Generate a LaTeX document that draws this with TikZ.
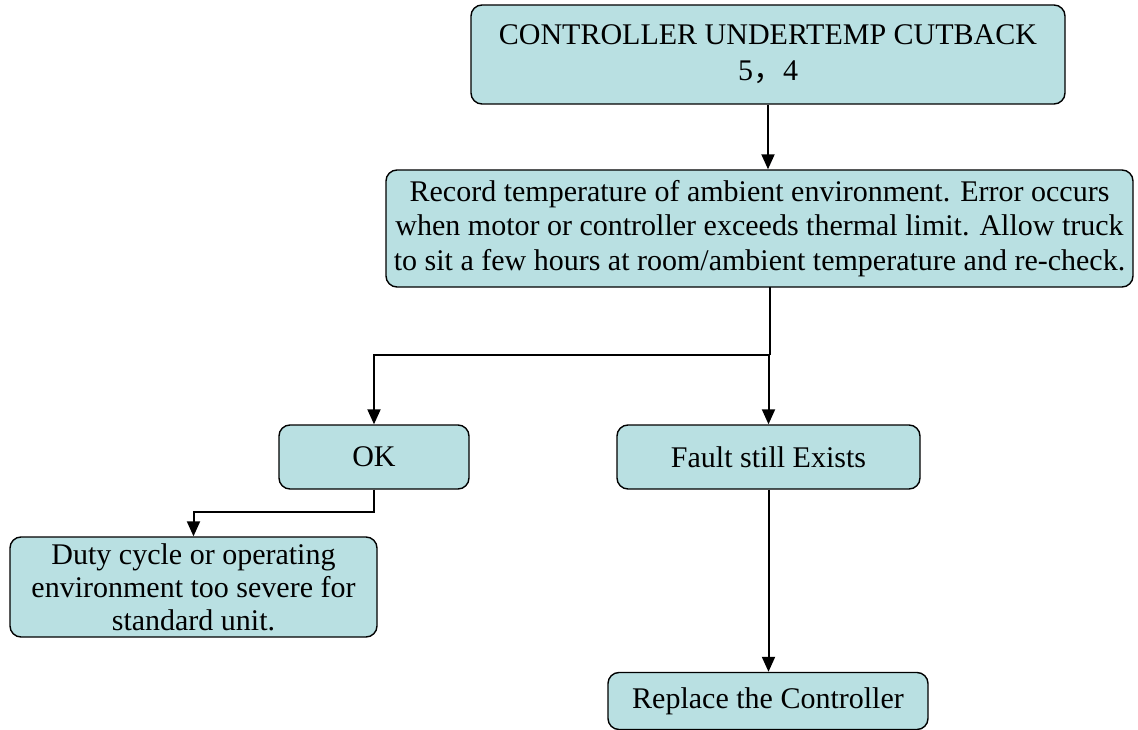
\documentclass[tikz,border=0pt]{standalone}
\usepackage{fontspec}
\setmainfont{Liberation Serif}
\newfontfamily\cjkfont{Noto Sans CJK SC}
\usetikzlibrary{arrows.meta}
\definecolor{boxfill}{RGB}{185,224,226}
\begin{document}
\begin{tikzpicture}[x=1pt,y=-1pt,
  box/.style={draw=black, line width=1.4pt, fill=boxfill, rounded corners=11pt,
    align=center, inner sep=0pt, font=\fontsize{30}{34.5}\selectfont},
  link/.style={draw=black, line width=2pt},
  arr/.style={link, -{Triangle[length=15pt,width=13pt]}}]
\useasboundingbox (0,0) rectangle (1138,730);
% boxes
\node[box, minimum width=594pt, minimum height=99pt, font=\fontsize{30}{36}\selectfont] (top) at (768,54.5)
  {CONTROLLER UNDERTEMP CUTBACK\\5{\cjkfont ，}4};
\node[box, minimum width=747pt, minimum height=117pt] (rec) at (759.5,228.5)
  {Record temperature of ambient environment. Error occurs\\
   when motor or controller exceeds thermal limit. Allow truck\\
   to sit a few hours at room/ambient temperature and re-check.};
\node[box, minimum width=190pt, minimum height=64pt] (ok) at (374,457) {OK};
\node[box, minimum width=303pt, minimum height=64pt] (fault) at (768.5,457) {Fault still Exists};
\node[box, minimum width=367pt, minimum height=100pt, font=\fontsize{30}{33}\selectfont] (duty) at (193.5,587)
  {Duty cycle or operating\\environment too severe for\\standard unit.};
\node[box, minimum width=320pt, minimum height=57pt] (repl) at (768,701) {Replace the Controller};
% junction points
\coordinate (recout) at (770,287);
\coordinate (split) at (770,355);
\coordinate (okturn) at (374,512);
% connectors
\draw[arr] (top.south) -- (top.south |- rec.north);
\draw[link] (recout) -- (split);
\draw[arr] (split) -| (ok.north);
\draw[arr] (fault.north |- split) -- (fault.north);
\draw[arr] (ok.south) -- (okturn) -| (duty.north);
\draw[arr] (fault.south) -- (fault.south |- repl.north);
\end{tikzpicture}
\end{document}
